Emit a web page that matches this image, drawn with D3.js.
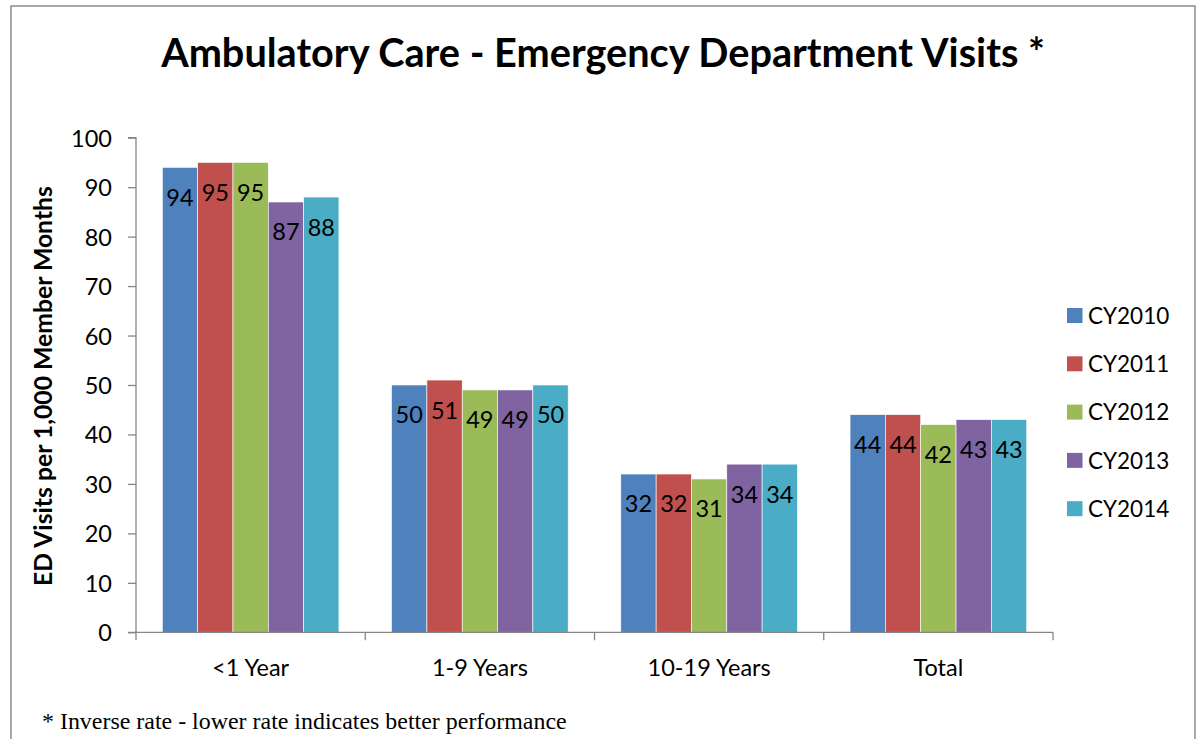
<!DOCTYPE html>
<html><head><meta charset="utf-8">
<script src="https://cdn.jsdelivr.net/npm/d3@7"></script>
<style>body{margin:0;background:#fff}svg{display:block}</style>
</head><body>
<svg id="chart" width="1200" height="739"></svg>
<script>
const categories = ["<1 Year", "1-9 Years", "10-19 Years", "Total"];
const seriesNames = ["CY2010", "CY2011", "CY2012", "CY2013", "CY2014"];
const cy2010 = [94, 50, 32, 44];
const cy2011 = [95, 51, 32, 44];
const cy2012 = [95, 49, 31, 42];
const cy2013 = [87, 49, 34, 43];
const cy2014 = [88, 50, 34, 43];
const yTicks = [0, 10, 20, 30, 40, 50, 60, 70, 80, 90, 100];
const colors = ["#4F81BD", "#C0504D", "#9BBB59", "#8064A2", "#4BACC6"];
const seriesValues = [cy2010, cy2011, cy2012, cy2013, cy2014];

const FONT = "Lato, 'Open Sans', sans-serif";
const svg = d3.select("#chart");

// outer border
svg.append("rect").attr("x", 11).attr("y", 6).attr("width", 1184).attr("height", 760)
  .attr("fill", "#fff").attr("stroke", "#8c8c8c").attr("stroke-width", 1.5);

const pLeft = 136, pRight = 1053, pTop = 137.7, pBottom = 632.3;

const x0 = d3.scaleBand().domain(categories).range([pLeft, pRight]).paddingInner(0).paddingOuter(0);
const x1 = d3.scaleBand().domain(seriesNames).range([0, x0.bandwidth()]).paddingOuter(0.745).paddingInner(0);
const y = d3.scaleLinear().domain([0, 100]).range([pBottom, pTop]);

// bars
const groups = svg.append("g").selectAll("g").data(categories).join("g")
  .attr("transform", d => `translate(${x0(d)},0)`);
groups.selectAll("rect").data((c, i) => seriesNames.map((s, j) => ({s, v: seriesValues[j][i], j})))
  .join("rect")
  .attr("x", d => x1(d.s)).attr("width", x1.bandwidth())
  .attr("y", d => y(d.v)).attr("height", d => y(0) - y(d.v))
  .attr("fill", d => colors[d.j]).attr("stroke", "#ffffff").attr("stroke-width", 0.6);

// value labels
groups.selectAll("text").data((c, i) => seriesNames.map((s, j) => ({s, v: seriesValues[j][i], j})))
  .join("text")
  .attr("x", d => x1(d.s) + x1.bandwidth() / 2)
  .attr("y", d => y(d.v) + 30)
  .attr("dy", "0.36em")
  .attr("text-anchor", "middle").attr("font-family", FONT).attr("font-size", 23.5)
  .attr("fill", "#000").text(d => d.v);

// y axis
const yAxis = svg.append("g").attr("transform", `translate(${pLeft},0)`)
  .call(d3.axisLeft(y).tickValues(yTicks).tickSize(8).tickPadding(16).tickFormat(d3.format("d")));
yAxis.select(".domain").attr("stroke", "#868686").attr("stroke-width", 1.3).attr("d", `M-8,${pTop}H0V${pBottom}H-8`);
yAxis.selectAll(".tick line").attr("stroke", "#868686").attr("stroke-width", 1.3);
yAxis.selectAll(".tick text").attr("font-family", FONT).attr("font-size", 23.5).attr("fill", "#000").attr("dy", "0.36em");

// x axis
const xAxis = svg.append("g").attr("transform", `translate(0,${pBottom})`)
  .call(d3.axisBottom(x0).tickSize(0).tickPadding(0));
xAxis.select(".domain").attr("stroke", "#868686").attr("stroke-width", 1.3).attr("d", `M${pLeft},0H${pRight}`);
xAxis.selectAll(".tick text").attr("font-family", FONT).attr("font-size", 23.5).attr("fill", "#000")
  .attr("y", 35).attr("dy", "0.36em");
// category boundary ticks
const bounds = categories.map(c => x0(c)).concat([pRight]);
xAxis.append("g").selectAll("line").data(bounds).join("line")
  .attr("x1", d => d).attr("x2", d => d).attr("y1", 0).attr("y2", 8)
  .attr("stroke", "#868686").attr("stroke-width", 1.3);

// title
const title = svg.append("text").attr("x", 603).attr("y", 67).attr("text-anchor", "middle")
  .attr("font-family", FONT).attr("font-weight", "bold").attr("font-size", 36).attr("fill", "#000")
  .text("Ambulatory Care - Emergency Department Visits *");
const tw = title.node().getComputedTextLength();
title.attr("font-size", 36 * 884 / tw);

// y axis title
const yt = svg.append("text").attr("transform", "translate(52,386) rotate(-90)").attr("text-anchor", "middle")
  .attr("font-family", FONT).attr("font-weight", "bold").attr("font-size", 18).attr("fill", "#000")
  .text("ED Visits per 1,000 Member Months");
const ytw = yt.node().getComputedTextLength();
yt.attr("font-size", 18 * 400 / ytw);

// legend
const legend = svg.append("g").selectAll("g").data(seriesNames).join("g")
  .attr("transform", (d, i) => `translate(1067,${315.5 + i * 48.3})`);
legend.append("rect").attr("x", 0).attr("y", -7.5).attr("width", 15.5).attr("height", 15)
  .attr("fill", (d, i) => colors[i]);
legend.append("text").attr("x", 21).attr("y", 0).attr("dy", "0.36em")
  .attr("font-family", FONT).attr("font-size", 22.5).attr("fill", "#000").text(d => d);

// footnote
const fn = svg.append("text").attr("x", 42).attr("y", 729)
  .attr("font-family", "'Liberation Serif', 'Times New Roman', serif").attr("font-size", 19).attr("fill", "#000")
  .text("* Inverse rate - lower rate indicates better performance");
const fw = fn.node().getComputedTextLength();
fn.attr("font-size", 19 * 525 / fw);
</script>
</body></html>
